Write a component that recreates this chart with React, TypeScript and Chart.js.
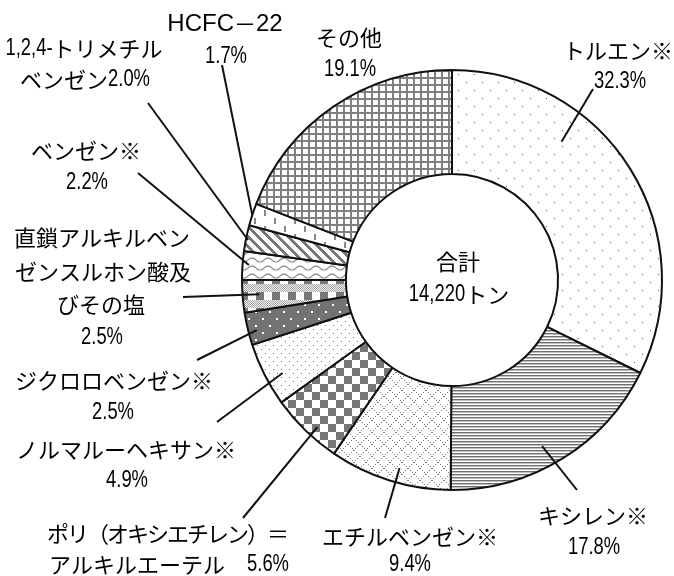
import React, { useEffect, useRef } from 'react';
import { Chart, registerables } from 'chart.js';

Chart.register(...registerables);

// ---------- data ----------
const categories = [
  'トルエン※',
  'キシレン※',
  'エチルベンゼン※',
  'ポリ（オキシエチレン）＝アルキルエーテル',
  'ノルマルーヘキサン※',
  'ジクロロベンゼン※',
  '直鎖アルキルベンゼンスルホン酸及びその塩',
  'ベンゼン※',
  '1,2,4-トリメチルベンゼン',
  'HCFC－22',
  'その他',
];
const shares = [32.3, 17.8, 9.4, 5.6, 4.9, 2.5, 2.5, 2.2, 2.0, 1.7, 19.1];
const labelLines = [
  ['トルエン※', '{p}'],
  ['キシレン※', '{p}'],
  ['エチルベンゼン※', '{p}'],
  ['ポリ（オキシエチレン）＝', 'アルキルエーテル　{p}'],
  ['ノルマルーヘキサン※', '{p}'],
  ['ジクロロベンゼン※', '{p}'],
  ['直鎖アルキルベン', 'ゼンスルホン酸及', 'びその塩', '{p}'],
  ['ベンゼン※', '{p}'],
  ['1,2,4-トリメチル', 'ベンゼン{p}'],
  ['HCFC－22', '{p}'],
  ['その他', '{p}'],
];
const totalLines = ['合計', '14,220トン'];

// ---------- layout (positions only) ----------
const labelPos: number[][][] = [
  [[618, 51], [620, 82]],
  [[593, 516], [594, 548]],
  [[410, 537], [410, 565]],
  [[168, 534], [169, 565]],
  [[126, 450], [127, 481]],
  [[114, 381], [113, 413]],
  [[102, 238], [103, 272], [101, 305], [102, 338]],
  [[86, 151], [87, 183]],
  [[84, 49], [85, 80]],
  [[225, 24], [226, 57]],
  [[349, 38], [350, 70]],
];
// per-line letter spacing tweaks (px), keyed "label:line"
const spacingTweaks: Record<string, number> = { '3:0': -2 };
const leaderEnds: (number[] | null)[] = [
  [593, 89], [577, 490], [385, 518], [243, 518], [217, 422], [197, 360],
  [183, 297], [138, 173], [148, 103], [222, 65], null,
];
const leaderInner: number[][] = [
  [0.33, 0.84], [0.55, 0.9], [0.45, 0.93], [0.41, 0.95], [0.39, 0.92], [0.4, 0.96],
  [0.53, 0.92], [0.53, 0.97], [0.44, 0.99], [0.47, 1.0], [0.5, 0.8],
];
const totalPos = [[458, 262], [459, 295]];

const JFONT = '22px "Noto Sans CJK JP", "Noto Sans", sans-serif';
const NFONT = '23px "Liberation Sans", Arial, sans-serif';
const LFONT = '24px "Liberation Sans", Arial, sans-serif';
const NSCALE = 0.8;
const TEXT = '#000';

function tile(w: number, h: number, fn: (g: CanvasRenderingContext2D) => void): CanvasPattern {
  const c = document.createElement('canvas');
  c.width = w;
  c.height = h;
  const g = c.getContext('2d')!;
  g.fillStyle = '#fff';
  g.fillRect(0, 0, w, h);
  fn(g);
  return g.createPattern(c, 'repeat')!;
}

function makePatterns(): CanvasPattern[] {
  return [
    // toluene: sparse dots
    tile(16, 16, (g) => {
      g.fillStyle = '#555';
      g.fillRect(2, 2, 1, 1);
      g.fillRect(10, 10, 1, 1);
    }),
    // xylene: horizontal lines
    tile(4, 3, (g) => {
      g.fillStyle = '#707070';
      g.fillRect(0, 0, 4, 1);
      g.fillStyle = '#c0c0c0';
      g.fillRect(0, 1, 4, 1);
    }),
    // ethylbenzene: diagonal lattice
    tile(12, 12, (g) => {
      g.fillStyle = '#808080';
      for (let i = 0; i < 12; i++) {
        if (i % 2 === 0) {
          g.fillRect(i, i, 1, 1);
          g.fillRect(11 - i, i, 1, 1);
        }
      }
    }),
    // poly: checkerboard
    tile(16, 16, (g) => {
      g.fillStyle = '#777';
      g.fillRect(0, 0, 8, 8);
      g.fillRect(8, 8, 8, 8);
    }),
    // normal hexane: dense dots
    tile(8, 8, (g) => {
      g.fillStyle = '#777';
      g.fillRect(1, 1, 1, 1);
      g.fillRect(5, 5, 1, 1);
    }),
    // dichlorobenzene: dark with white dots
    tile(14, 14, (g) => {
      g.fillStyle = '#737373';
      g.fillRect(0, 0, 14, 14);
      g.fillStyle = '#fff';
      g.fillRect(3, 3, 2, 2);
      g.fillRect(10, 10, 2, 2);
    }),
    // linear alkylbenzene: bands of fine checker and blocks
    tile(16, 16, (g) => {
      for (let y = 0; y < 16; y++) {
        for (let x = 0; x < 16; x++) {
          if (y < 4 || y >= 12) {
            if ((x + y) % 2 === 0) {
              g.fillStyle = '#999';
              g.fillRect(x, y, 1, 1);
            }
          } else if (x < 8) {
            g.fillStyle = '#777';
            g.fillRect(x, y, 1, 1);
          }
        }
      }
    }),
    // benzene: wavy lines
    tile(16, 8, (g) => {
      g.strokeStyle = '#8a8a8a';
      g.lineWidth = 1.2;
      g.beginPath();
      for (let x = 0; x <= 16; x++) {
        const y = 4 + 2 * Math.sin((2 * Math.PI * x) / 16);
        if (x === 0) g.moveTo(x, y);
        else g.lineTo(x, y);
      }
      g.stroke();
    }),
    // trimethylbenzene: diagonal stripes
    tile(10, 10, (g) => {
      g.fillStyle = '#777';
      for (let y = 0; y < 10; y++) {
        for (let x = 0; x < 10; x++) {
          if ((((x - y) % 10) + 10) % 10 < 4) g.fillRect(x, y, 1, 1);
        }
      }
    }),
    // HCFC: vertical dashes
    tile(20, 16, (g) => {
      g.fillStyle = '#888';
      g.fillRect(4, 2, 2, 6);
      g.fillRect(14, 10, 2, 6);
    }),
    // others: grid
    tile(7, 7, (g) => {
      g.fillStyle = '#808080';
      g.fillRect(0, 0, 7, 2);
      g.fillRect(0, 0, 2, 7);
    }),
  ];
}

type Seg = { t: string; k: 'j' | 'n' | 'l' };

function splitSegs(s: string): Seg[] {
  const out: Seg[] = [];
  const latinWord = /[A-Za-z]/.test(s);
  for (const ch of s) {
    let k: 'j' | 'n' | 'l' = 'j';
    if (/[0-9.,%\-]/.test(ch)) k = latinWord ? 'l' : 'n';
    else if (/[A-Za-z]/.test(ch)) k = 'l';
    const last = out[out.length - 1];
    if (last && last.k === k) last.t += ch;
    else out.push({ t: ch, k });
  }
  return out;
}

function segWidth(ctx: CanvasRenderingContext2D, s: Seg, ls: number): number {
  const extra = ls * [...s.t].length;
  if (s.k === 'j') {
    ctx.font = JFONT;
    return ctx.measureText(s.t).width + extra;
  }
  if (s.k === 'l') {
    ctx.font = LFONT;
    return ctx.measureText(s.t).width + extra;
  }
  ctx.font = NFONT;
  return ctx.measureText(s.t).width * NSCALE + extra;
}

function drawCentered(ctx: CanvasRenderingContext2D, text: string, cx: number, cy: number, ls = 0) {
  const segs = splitSegs(text);
  const widths = segs.map((s) => segWidth(ctx, s, ls));
  const total = widths.reduce((a, b) => a + b, 0) - ls;
  let x = cx - total / 2;
  ctx.textBaseline = 'middle';
  ctx.textAlign = 'left';
  ctx.fillStyle = TEXT;
  segs.forEach((s, i) => {
    let cxp = x;
    for (const ch of s.t) {
      if (s.k === 'n') {
        ctx.save();
        ctx.font = NFONT;
        ctx.translate(cxp, cy);
        ctx.scale(NSCALE, 1);
        ctx.fillText(ch, 0, 0);
        const w = ctx.measureText(ch).width * NSCALE;
        ctx.restore();
        cxp += w + ls;
      } else {
        ctx.font = s.k === 'j' ? JFONT : LFONT;
        ctx.fillText(ch, cxp, cy);
        cxp += ctx.measureText(ch).width + ls;
      }
    }
    x += widths[i];
  });
}

const labelPlugin = {
  id: 'labelPlugin',
  afterDatasetsDraw(chart: any) {
    const ctx: CanvasRenderingContext2D = chart.ctx;
    const meta = chart.getDatasetMeta(0);
    ctx.save();
    // leader lines
    ctx.strokeStyle = '#111';
    ctx.lineWidth = 2;
    meta.data.forEach((arc: any, i: number) => {
      const end = leaderEnds[i];
      if (!end) return;
      const [f, rf] = leaderInner[i];
      const a = arc.startAngle + f * (arc.endAngle - arc.startAngle);
      const r = rf * arc.outerRadius;
      const x0 = arc.x + Math.cos(a) * r;
      const y0 = arc.y + Math.sin(a) * r;
      ctx.beginPath();
      ctx.moveTo(x0, y0);
      ctx.lineTo(end[0], end[1]);
      ctx.stroke();
    });
    // labels
    labelLines.forEach((lines, i) => {
      const pct = shares[i].toFixed(1) + '%';
      lines.forEach((ln, j) => {
        const text = ln.replace('{p}', pct);
        const [x, y] = labelPos[i][j];
        drawCentered(ctx, text, x, y, spacingTweaks[`${i}:${j}`] || 0);
      });
    });
    // center total
    totalLines.forEach((t, i) => drawCentered(ctx, t, totalPos[i][0], totalPos[i][1]));
    ctx.restore();
  },
};

export default function App() {
  const ref = useRef<HTMLCanvasElement | null>(null);
  useEffect(() => {
    if (!ref.current) return;
    const chart = new Chart(ref.current, {
      type: 'doughnut',
      data: {
        labels: categories,
        datasets: [
          {
            data: shares,
            backgroundColor: makePatterns() as any,
            borderColor: '#111',
            borderWidth: 2,
          },
        ],
      },
      options: {
        responsive: false,
        animation: false,
        cutout: '50.5%',
        layout: { padding: { left: 241, right: 11, top: 69, bottom: 85 } },
        plugins: { legend: { display: false }, tooltip: { enabled: false } },
      },
      plugins: [labelPlugin],
    });
    return () => chart.destroy();
  }, []);
  return (
    <div style={{ position: 'fixed', left: 0, top: 0, width: 674, height: 576, background: '#fff' }}>
      <canvas ref={ref} width={674} height={576} style={{ display: 'block' }} />
    </div>
  );
}
